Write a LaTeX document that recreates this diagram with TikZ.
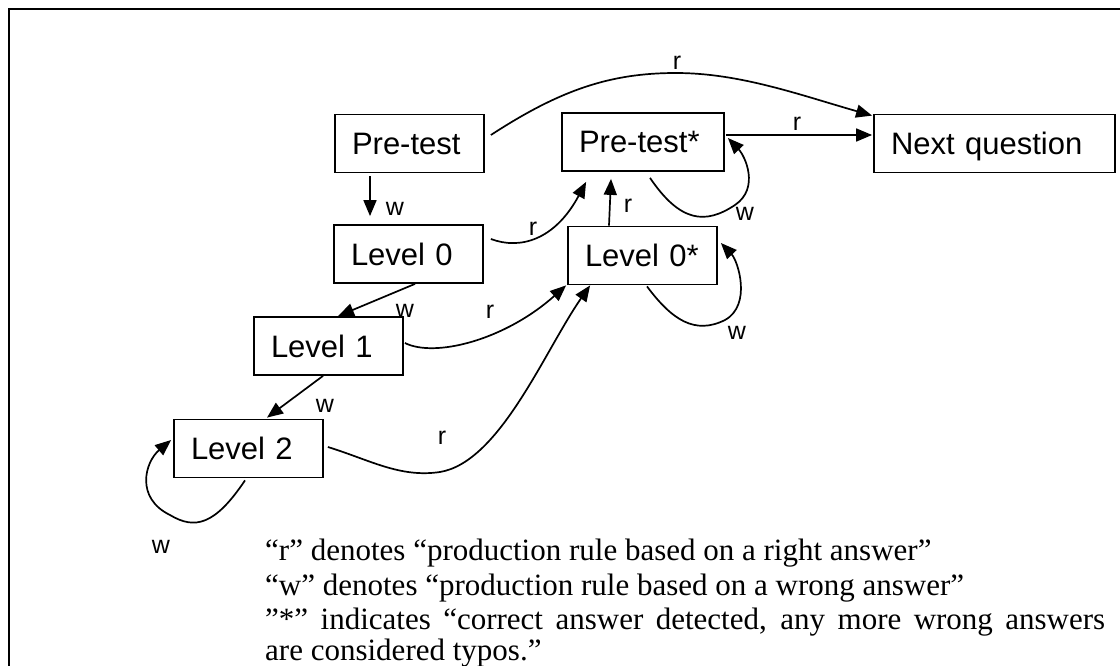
\documentclass[tikz,border=0pt]{standalone}
\usepackage{fontspec}
\setmainfont{Liberation Serif}
\newfontfamily\arialf{Liberation Sans}
\usetikzlibrary{arrows.meta,calc}
\begin{document}
\begin{tikzpicture}[x=1pt,y=-1pt,
  box/.style={draw, line width=1.8pt, inner xsep=17pt, inner ysep=0pt, align=left,
    text height=22pt, text depth=0pt, minimum height=58pt,
    font=\arialf\fontsize{31}{37}\selectfont},
  conn/.style={line width=1.7pt, -{Triangle[length=16pt,width=13pt]}},
  lab/.style={font=\arialf\fontsize{25}{30}\selectfont, inner sep=0pt, anchor=base},
  legend/.style={font=\fontsize{31}{35}\selectfont, inner sep=0pt, anchor=base west}]
\useasboundingbox[fill=white] (0,0) rectangle (1120,666);
% frame
\draw[line width=2.5pt] (9,666) -- (9,9) -- (1120,9);
% boxes
\node[box, text width=115pt] (pre) at (409.5,143.5) {Pre-test};
\node[box, text width=128pt] (prestar) at (643,142) {Pre-test*};
\node[box, text width=207pt] (next) at (994.5,143.5) {Next question};
\node[box, text width=115pt] (l0) at (408.5,254) {Level 0};
\node[box, text width=115pt] (l0star) at (642.5,255.5) {Level 0*};
\node[box, text width=115pt] (l1) at (328.5,346) {Level 1};
\node[box, text width=115pt] (l2) at (248.5,448.5) {Level 2};
% connectors
\draw[conn] ($(pre.east)+(6,-8.5)$) .. controls (560,90) and (610,73) .. (676,73)
   .. controls (740,73) and (800,95) .. ($(next.north west)+(-1,2)$);
\draw[conn] ($(prestar.east)+(1,-7)$) -- ($(next.west)+(-1,-8.5)$);
\draw[conn] ($(prestar.south)+(7,6)$) .. controls (680,222) and (705,225) .. (735,205)
   .. controls (760,188) and (745,156) .. ($(prestar.east)+(3,-4)$);
\draw[conn] ($(l0star.south)+(4.5,1)$) .. controls (672,320) and (695,335) .. (725,320)
   .. controls (752,305) and (738,261) .. ($(l0star.east)+(3,-12.5)$);
\draw[conn] ($(l0star.north)+(-33.5,0)$) -- ($(prestar.south)+(-32,7)$);
\draw[conn] ($(l0.east)+(7,-15)$) .. controls (520,250) and (555,240) .. ($(prestar.south west)+(25,10)$);
\draw[conn] ($(l0.south)+(6.5,0)$) -- ($(l1.north)+(9.5,0)$);
\draw[conn] ($(pre.south)+(-39.5,3)$) -- ($(l0.north)+(-38.5,-8)$);
\draw[conn] ($(l1.east)+(1,-3)$) .. controls (435,358) and (505,340) .. ($(l0star.south west)+(-1,0)$);
\draw[conn] ($(l1.south)+(-5.5,0)$) -- ($(l2.north)+(18.5,-1)$);
\draw[conn] ($(l2.east)+(4,-1.5)$) .. controls (370,460) and (400,478) .. (440,472)
   .. controls (500,462) and (545,350) .. ($(l0star.south west)+(23,0)$);
\draw[conn] ($(l2.south)+(-3.5,2)$) .. controls (215,525) and (195,530) .. (170,515)
   .. controls (135,498) and (145,462) .. ($(l2.west)+(-2,-8.5)$);
% labels
\node[lab] (r1) at (677,70) {r};
\node[lab] (r2) at (797,131) {r};
\node[lab] (w1) at (745,220) {w};
\node[lab] (w2) at (737,339) {w};
\node[lab] (r3) at (628,213) {r};
\node[lab] (r4) at (533,235) {r};
\node[lab] (w3) at (405,317) {w};
\node[lab] (w4) at (395,215) {w};
\node[lab] (r5) at (490,318) {r};
\node[lab] (w5) at (325,412) {w};
\node[lab] (r6) at (442,444) {r};
\node[lab] (w6) at (161,553) {w};
% legend
\node[legend] (t1) at (265,560) {“r” denotes “production rule based on a right answer”};
\node[legend] (t2) at (265,595) {“w” denotes “production rule based on a wrong answer”};
\node[legend] (t3) at (265,629) {\makebox[840pt][s]{”*” indicates “correct answer detected, any more wrong answers}};
\node[legend] (t4) at (265,660) {are considered typos.”};
\end{tikzpicture}
\end{document}
